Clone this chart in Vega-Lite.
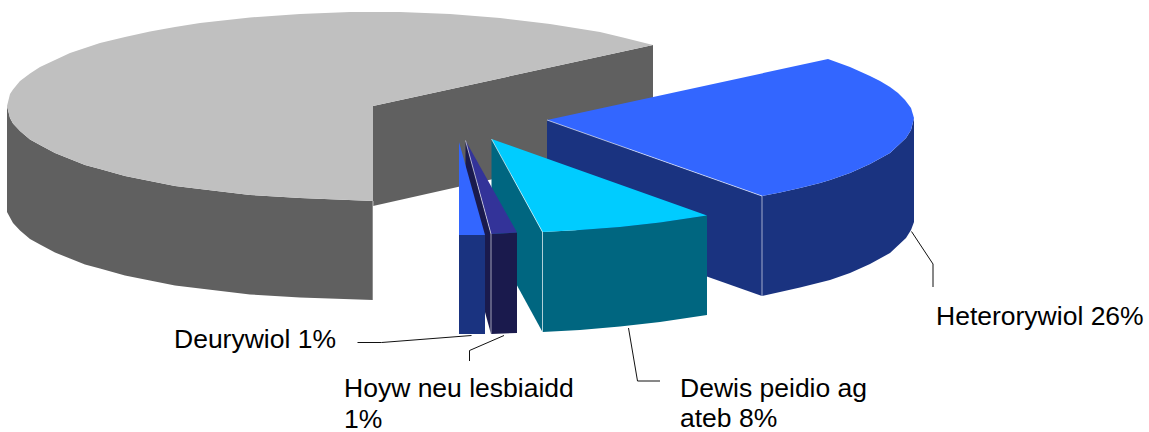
{"$schema":"https://vega.github.io/schema/vega-lite/v6.json","width":1149,"height":432,"padding":0,"autosize":{"type":"none"},"background":"white","view":{"stroke":null},"config":{"axis":{"domain":false}},"layer":[
{"data":{"values":[
{"part":"g-inner","i":1,"x":373,"y":106},{"part":"g-inner","i":2,"x":653,"y":45},{"part":"g-inner","i":3,"x":653,"y":143},{"part":"g-inner","i":4,"x":373,"y":206},
{"part":"g-outer","i":1,"x":7,"y":106},{"part":"g-outer","i":2,"x":10,"y":118},{"part":"g-outer","i":3,"x":13,"y":123.5},{"part":"g-outer","i":4,"x":20,"y":131},{"part":"g-outer","i":5,"x":30,"y":139.5},{"part":"g-outer","i":6,"x":40,"y":145},{"part":"g-outer","i":7,"x":55,"y":153},{"part":"g-outer","i":8,"x":70,"y":159},{"part":"g-outer","i":9,"x":85,"y":165},{"part":"g-outer","i":10,"x":100,"y":169},{"part":"g-outer","i":11,"x":125,"y":176},{"part":"g-outer","i":12,"x":150,"y":181},{"part":"g-outer","i":13,"x":175,"y":186},{"part":"g-outer","i":14,"x":200,"y":189},{"part":"g-outer","i":15,"x":250,"y":195},{"part":"g-outer","i":16,"x":300,"y":198},{"part":"g-outer","i":17,"x":373,"y":201},
{"part":"g-outer","i":18,"x":373,"y":300},{"part":"g-outer","i":19,"x":300,"y":297.5},{"part":"g-outer","i":20,"x":250,"y":294.5},{"part":"g-outer","i":21,"x":200,"y":288.5},{"part":"g-outer","i":22,"x":175,"y":285.5},{"part":"g-outer","i":23,"x":150,"y":280.5},{"part":"g-outer","i":24,"x":125,"y":275.5},{"part":"g-outer","i":25,"x":100,"y":268.5},{"part":"g-outer","i":26,"x":85,"y":264.5},{"part":"g-outer","i":27,"x":70,"y":258.5},{"part":"g-outer","i":28,"x":55,"y":252.5},{"part":"g-outer","i":29,"x":40,"y":244.5},{"part":"g-outer","i":30,"x":30,"y":239},{"part":"g-outer","i":31,"x":20,"y":230.5},{"part":"g-outer","i":32,"x":13,"y":223},{"part":"g-outer","i":33,"x":10,"y":217.5},{"part":"g-outer","i":34,"x":7,"y":212},
{"part":"g-top","i":1,"x":373,"y":106},{"part":"g-top","i":2,"x":653,"y":45},{"part":"g-top","i":3,"x":625,"y":38},{"part":"g-top","i":4,"x":600,"y":32},{"part":"g-top","i":5,"x":575,"y":28},{"part":"g-top","i":6,"x":550,"y":24},{"part":"g-top","i":7,"x":500,"y":18},{"part":"g-top","i":8,"x":450,"y":14},{"part":"g-top","i":9,"x":400,"y":12},{"part":"g-top","i":10,"x":350,"y":12},{"part":"g-top","i":11,"x":300,"y":14},{"part":"g-top","i":12,"x":250,"y":17.5},{"part":"g-top","i":13,"x":200,"y":23},{"part":"g-top","i":14,"x":175,"y":27},{"part":"g-top","i":15,"x":150,"y":31.5},{"part":"g-top","i":16,"x":125,"y":37},{"part":"g-top","i":17,"x":100,"y":43},{"part":"g-top","i":18,"x":85,"y":48},{"part":"g-top","i":19,"x":70,"y":53},{"part":"g-top","i":20,"x":55,"y":60},{"part":"g-top","i":21,"x":40,"y":67},{"part":"g-top","i":22,"x":30,"y":73.5},{"part":"g-top","i":23,"x":20,"y":81},{"part":"g-top","i":24,"x":13,"y":89.5},{"part":"g-top","i":25,"x":10,"y":94},{"part":"g-top","i":26,"x":7,"y":106},{"part":"g-top","i":27,"x":10,"y":118},{"part":"g-top","i":28,"x":13,"y":123.5},{"part":"g-top","i":29,"x":20,"y":131},{"part":"g-top","i":30,"x":30,"y":139.5},{"part":"g-top","i":31,"x":40,"y":145},{"part":"g-top","i":32,"x":55,"y":153},{"part":"g-top","i":33,"x":70,"y":159},{"part":"g-top","i":34,"x":85,"y":165},{"part":"g-top","i":35,"x":100,"y":169},{"part":"g-top","i":36,"x":125,"y":176},{"part":"g-top","i":37,"x":150,"y":181},{"part":"g-top","i":38,"x":175,"y":186},{"part":"g-top","i":39,"x":200,"y":189},{"part":"g-top","i":40,"x":250,"y":195},{"part":"g-top","i":41,"x":300,"y":198},{"part":"g-top","i":42,"x":373,"y":201},
{"part":"h-inner","i":1,"x":547,"y":120},{"part":"h-inner","i":2,"x":762,"y":196},{"part":"h-inner","i":3,"x":762,"y":296},{"part":"h-inner","i":4,"x":547,"y":220},
{"part":"h-outer","i":1,"x":762,"y":196},{"part":"h-outer","i":2,"x":780,"y":192.5},{"part":"h-outer","i":3,"x":800,"y":188},{"part":"h-outer","i":4,"x":820,"y":183},{"part":"h-outer","i":5,"x":830,"y":180},{"part":"h-outer","i":6,"x":850,"y":173},{"part":"h-outer","i":7,"x":870,"y":164},{"part":"h-outer","i":8,"x":890,"y":153},{"part":"h-outer","i":9,"x":906,"y":138},{"part":"h-outer","i":10,"x":911,"y":130},{"part":"h-outer","i":11,"x":914,"y":118},{"part":"h-outer","i":12,"x":914,"y":222},{"part":"h-outer","i":13,"x":911,"y":230},{"part":"h-outer","i":14,"x":906,"y":238},{"part":"h-outer","i":15,"x":890,"y":253},{"part":"h-outer","i":16,"x":870,"y":264},{"part":"h-outer","i":17,"x":850,"y":273},{"part":"h-outer","i":18,"x":830,"y":280},{"part":"h-outer","i":19,"x":820,"y":282.5},{"part":"h-outer","i":20,"x":800,"y":287.5},{"part":"h-outer","i":21,"x":780,"y":292},{"part":"h-outer","i":22,"x":762,"y":296},
{"part":"h-top","i":1,"x":547,"y":120},{"part":"h-top","i":2,"x":828,"y":59},{"part":"h-top","i":3,"x":850,"y":67},{"part":"h-top","i":4,"x":860,"y":71.5},{"part":"h-top","i":5,"x":870,"y":76},{"part":"h-top","i":6,"x":880,"y":81},{"part":"h-top","i":7,"x":890,"y":87},{"part":"h-top","i":8,"x":898,"y":93},{"part":"h-top","i":9,"x":905,"y":100},{"part":"h-top","i":10,"x":911,"y":108},{"part":"h-top","i":11,"x":914,"y":118},{"part":"h-top","i":12,"x":911,"y":130},{"part":"h-top","i":13,"x":906,"y":138},{"part":"h-top","i":14,"x":890,"y":153},{"part":"h-top","i":15,"x":870,"y":164},{"part":"h-top","i":16,"x":850,"y":173},{"part":"h-top","i":17,"x":830,"y":180},{"part":"h-top","i":18,"x":820,"y":183},{"part":"h-top","i":19,"x":800,"y":188},{"part":"h-top","i":20,"x":780,"y":192.5},{"part":"h-top","i":21,"x":762,"y":196},
{"part":"t-inner","i":1,"x":491.5,"y":139},{"part":"t-inner","i":2,"x":542.5,"y":232},{"part":"t-inner","i":3,"x":542.5,"y":332},{"part":"t-inner","i":4,"x":491.5,"y":239},
{"part":"t-outer","i":1,"x":542.5,"y":232},{"part":"t-outer","i":2,"x":580,"y":230},{"part":"t-outer","i":3,"x":620,"y":227},{"part":"t-outer","i":4,"x":660,"y":222.5},{"part":"t-outer","i":5,"x":707,"y":215.5},{"part":"t-outer","i":6,"x":707,"y":315},{"part":"t-outer","i":7,"x":660,"y":322},{"part":"t-outer","i":8,"x":620,"y":326.5},{"part":"t-outer","i":9,"x":580,"y":330},{"part":"t-outer","i":10,"x":542.5,"y":332},
{"part":"t-top","i":1,"x":491.5,"y":139},{"part":"t-top","i":2,"x":707,"y":215.5},{"part":"t-top","i":3,"x":660,"y":222.5},{"part":"t-top","i":4,"x":620,"y":227},{"part":"t-top","i":5,"x":580,"y":230},{"part":"t-top","i":6,"x":542.5,"y":232},
{"part":"p-inner","i":1,"x":465.5,"y":140.5},{"part":"p-inner","i":2,"x":491,"y":234},{"part":"p-inner","i":3,"x":491,"y":334},{"part":"p-inner","i":4,"x":465.5,"y":241},
{"part":"p-outer","i":1,"x":491,"y":234},{"part":"p-outer","i":2,"x":517,"y":232.5},{"part":"p-outer","i":3,"x":517,"y":333},{"part":"p-outer","i":4,"x":491,"y":334},
{"part":"p-top","i":1,"x":465.5,"y":140.5},{"part":"p-top","i":2,"x":517,"y":232.5},{"part":"p-top","i":3,"x":491,"y":234},
{"part":"b-outer","i":1,"x":459,"y":235},{"part":"b-outer","i":2,"x":485,"y":235},{"part":"b-outer","i":3,"x":485,"y":334},{"part":"b-outer","i":4,"x":459,"y":334},
{"part":"b-top","i":1,"x":459,"y":142},{"part":"b-top","i":2,"x":485,"y":235},{"part":"b-top","i":3,"x":459,"y":235}
]},
"mark":{"type":"line","filled":true,"strokeWidth":0,"interpolate":"linear"},
"encoding":{
"x":{"field":"x","type":"quantitative","scale":{"domain":[0,1149],"nice":false,"zero":false},"axis":null},
"y":{"field":"y","type":"quantitative","scale":{"domain":[432,0],"nice":false,"zero":false},"axis":null},
"order":{"field":"i","type":"quantitative"},
"detail":{"field":"part"},
"fill":{"field":"part","type":"nominal","legend":null,"sort":null,"scale":{"domain":["g-inner","g-outer","g-top","h-inner","h-outer","h-top","t-inner","t-outer","t-top","p-inner","p-outer","p-top","b-outer","b-top"],"range":["#606060","#606060","#c0c0c0","#1a3380","#1a3380","#3366ff","#006680","#006680","#00ccff","#1a1a4d","#1a1a4d","#333399","#1a3380","#3366ff"]}}
}},
{"data":{"values":[
{"edge":"a","i":1,"x":491.5,"y":139},{"edge":"a","i":2,"x":542.5,"y":232},{"edge":"a","i":3,"x":542.5,"y":332},
{"edge":"b","i":1,"x":465.5,"y":140.5},{"edge":"b","i":2,"x":491,"y":234},{"edge":"b","i":3,"x":491,"y":334},
{"edge":"c","i":1,"x":547,"y":120},{"edge":"c","i":2,"x":762,"y":196},{"edge":"c","i":3,"x":762,"y":296},
{"edge":"d","i":1,"x":373,"y":201},{"edge":"d","i":2,"x":373,"y":300}
]},
"mark":{"type":"line","stroke":"white","strokeWidth":0.8,"opacity":0.75},
"encoding":{
"x":{"field":"x","type":"quantitative","scale":{"domain":[0,1149],"nice":false,"zero":false},"axis":null},
"y":{"field":"y","type":"quantitative","scale":{"domain":[432,0],"nice":false,"zero":false},"axis":null},
"order":{"field":"i","type":"quantitative"},
"detail":{"field":"edge"}
}},
{"data":{"values":[
{"leader":"Heterorywiol","i":1,"x":911.5,"y":231.5},{"leader":"Heterorywiol","i":2,"x":933,"y":264},{"leader":"Heterorywiol","i":3,"x":933,"y":287},
{"leader":"Dewis","i":1,"x":628.5,"y":328},{"leader":"Dewis","i":2,"x":637.5,"y":381},{"leader":"Dewis","i":3,"x":660,"y":381},
{"leader":"Deurywiol","i":1,"x":357.5,"y":342.5},{"leader":"Deurywiol","i":2,"x":381.5,"y":342.5},{"leader":"Deurywiol","i":3,"x":471.5,"y":335.5},
{"leader":"Hoyw","i":1,"x":504,"y":335.5},{"leader":"Hoyw","i":2,"x":469.5,"y":350.5},{"leader":"Hoyw","i":3,"x":469.5,"y":361}
]},
"mark":{"type":"line","stroke":"#111111","strokeWidth":1},
"encoding":{
"x":{"field":"x","type":"quantitative","scale":{"domain":[0,1149],"nice":false,"zero":false},"axis":null},
"y":{"field":"y","type":"quantitative","scale":{"domain":[432,0],"nice":false,"zero":false},"axis":null},
"order":{"field":"i","type":"quantitative"},
"detail":{"field":"leader"}
}},
{"data":{"values":[
{"label":"Heterorywiol 26%","x":936,"y":325},
{"label":"Deurywiol 1%","x":174,"y":348},
{"label":"Hoyw neu lesbiaidd","x":344,"y":397},
{"label":"1%","x":344,"y":428},
{"label":"Dewis peidio ag","x":680,"y":397},
{"label":"ateb 8%","x":680,"y":427}
]},
"mark":{"type":"text","align":"left","baseline":"alphabetic","font":"Liberation Sans","fontSize":26.5,"fill":"#000000"},
"encoding":{
"x":{"field":"x","type":"quantitative","scale":{"domain":[0,1149],"nice":false,"zero":false},"axis":null},
"y":{"field":"y","type":"quantitative","scale":{"domain":[432,0],"nice":false,"zero":false},"axis":null},
"text":{"field":"label"}
}}
]}
